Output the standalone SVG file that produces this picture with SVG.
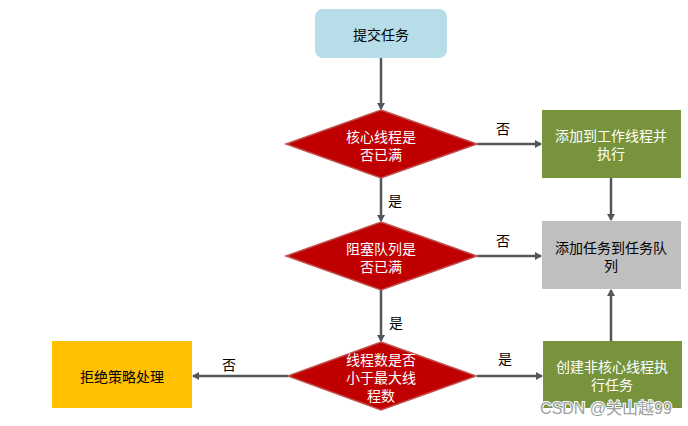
<svg xmlns="http://www.w3.org/2000/svg" width="688" height="426" viewBox="0 0 688 426">
<defs>
<marker id="ah" markerWidth="8" markerHeight="8" refX="6" refY="4" orient="auto" markerUnits="userSpaceOnUse">
<path d="M0,0 L7,4 L0,8 Z" fill="#50585c"/>
</marker>
<style>
text{font-family:"Microsoft YaHei","Noto Sans CJK SC",sans-serif;font-size:14px;text-anchor:middle;dominant-baseline:central}
.w{fill:#ffffff}
.k{fill:#000000}
.dia{fill:#c00000;stroke:#c0504d;stroke-width:1.5}
.c{stroke:#50585c;stroke-width:2.5;fill:none;marker-end:url(#ah)}
</style>
</defs>
<rect width="688" height="426" fill="#ffffff"/>
<g id="connectors">
<line class="c" x1="381" y1="58" x2="381" y2="109"/>
<line class="c" x1="381" y1="178" x2="381" y2="221"/>
<line class="c" x1="381" y1="290" x2="381" y2="341"/>
<line class="c" x1="477" y1="144" x2="541" y2="144"/>
<line class="c" x1="477" y1="256" x2="541" y2="256"/>
<line class="c" x1="611" y1="178" x2="611" y2="220"/>
<line class="c" x1="611" y1="341" x2="611" y2="290"/>
<line class="c" x1="288" y1="376" x2="193" y2="376"/>
<line class="c" x1="477" y1="376" x2="542" y2="376"/>
<text class="k" x="503" y="128">否</text>
<text class="k" x="395" y="200">是</text>
<text class="k" x="503" y="240">否</text>
<text class="k" x="396" y="322">是</text>
<text class="k" x="229" y="364">否</text>
<text class="k" x="505" y="358">是</text>
</g>
<g id="submit">
<rect x="315" y="9" width="132" height="49" rx="8" fill="#b7dde8"/>
<text class="k" x="381" y="34">提交任务</text>
</g>
<g id="d1">
<polygon class="dia" points="381,110 477,144 381,178 286,144"/>
<text class="w" x="381" y="136">核心线程是<tspan x="381" dy="18">否已满</tspan></text>
</g>
<g id="d2">
<polygon class="dia" points="381,222 477,256 381,290 286,256"/>
<text class="w" x="381" y="248">阻塞队列是<tspan x="381" dy="18">否已满</tspan></text>
</g>
<g id="d3">
<polygon class="dia" points="381,342 476,376 381,410 288,376"/>
<text class="w" x="381" y="359">线程数是否<tspan x="381" dy="18">小于最大线</tspan><tspan x="381" dy="18">程数</tspan></text>
</g>
<g id="addWorker">
<rect x="542" y="110" width="139" height="68" fill="#77933c"/>
<text class="w" x="611" y="135">添加到工作线程并<tspan x="611" dy="18">执行</tspan></text>
</g>
<g id="queue">
<rect x="542" y="221" width="139" height="68" fill="#bfbfbf"/>
<text class="k" x="611" y="247">添加任务到任务队<tspan x="611" dy="18">列</tspan></text>
</g>
<g id="nonCore">
<rect x="543" y="341" width="139" height="67" fill="#77933c"/>
<text class="w" x="612" y="366">创建非核心线程执<tspan x="612" dy="18">行任务</tspan></text>
</g>
<g id="reject">
<rect x="52" y="341" width="140" height="67" fill="#ffc000"/>
<text class="k" x="122" y="376">拒绝策略处理</text>
</g>
<text x="606" y="408" style="font-size:16px;fill:#a0a0a0;stroke:#ffffff;stroke-width:2;paint-order:stroke;font-family:'Liberation Sans','Noto Sans CJK SC',sans-serif">CSDN @关山越99</text>
</svg>
